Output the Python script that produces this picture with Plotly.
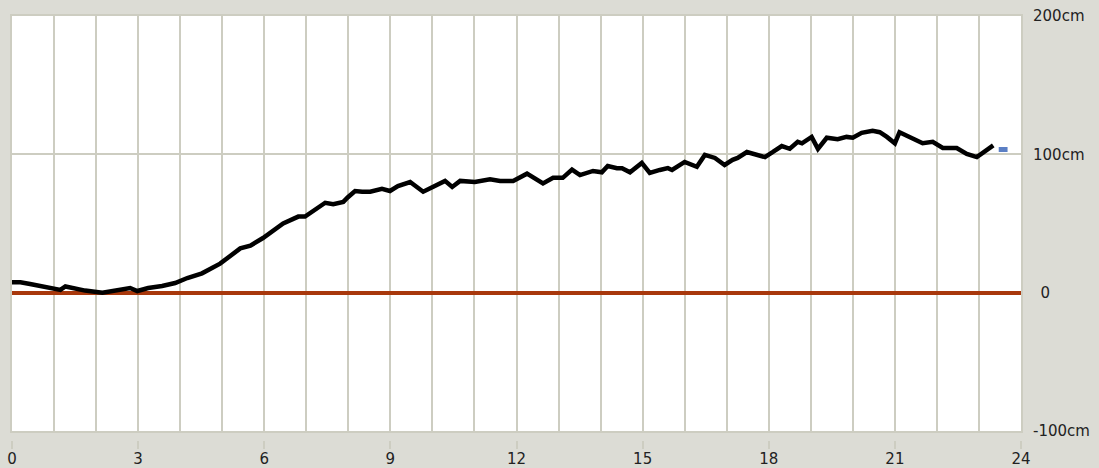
import plotly.graph_objects as go

# Tide level readings (hours, cm)
hours = [0.00, 0.20, 0.43, 0.72, 0.98, 1.15, 1.27, 1.50, 1.74, 2.15, 2.38, 2.62, 2.81, 2.98,
         3.24, 3.57, 3.88, 4.17, 4.52, 4.95, 5.43, 5.67, 5.97, 6.45, 6.62, 6.81, 6.97, 7.26,
         7.45, 7.64, 7.88, 7.99, 8.16, 8.33, 8.52, 8.80, 8.99, 9.18, 9.47, 9.78, 9.99, 10.30,
         10.47, 10.66, 11.01, 11.37, 11.61, 11.92, 12.25, 12.63, 12.87, 13.10, 13.32, 13.51,
         13.82, 14.03, 14.17, 14.39, 14.51, 14.70, 14.98, 15.17, 15.41, 15.60, 15.70, 16.00,
         16.29, 16.48, 16.72, 16.95, 17.14, 17.26, 17.48, 17.67, 17.91, 18.10, 18.31, 18.50,
         18.69, 18.79, 19.02, 19.17, 19.38, 19.64, 19.85, 20.00, 20.21, 20.47, 20.64, 20.81,
         21.00, 21.11, 21.35, 21.66, 21.90, 22.14, 22.47, 22.71, 22.95, 23.14, 23.34]
level_cm = [7.5, 7.5, 6.3, 4.8, 3.4, 2.0, 4.5, 2.7, 1.5, 0.0, 1.2, 2.7, 3.4, 1.2,
            3.4, 4.8, 7.0, 10.6, 14.0, 21.0, 32.0, 34.0, 39.5, 50.0, 52.0, 55.0, 55.0, 61.0,
            65.0, 64.0, 65.6, 69.0, 73.5, 73.0, 73.0, 75.0, 73.5, 77.0, 80.0, 73.0, 76.4, 80.8,
            76.4, 80.8, 80.0, 82.0, 80.8, 80.8, 86.0, 79.0, 83.0, 83.0, 89.0, 85.0,
            88.0, 87.0, 91.6, 90.0, 90.0, 87.0, 93.8, 86.5, 88.7, 90.0, 88.7, 94.5,
            91.0, 99.6, 97.4, 92.3, 96.0, 97.4, 101.7, 100.3, 98.0, 101.7, 106.0, 104.0,
            109.0, 108.0, 112.6, 104.0, 112.0, 111.0, 112.6, 112.0, 115.5, 117.0, 116.0, 112.6,
            108.0, 116.0, 112.6, 108.0, 109.0, 104.6, 104.6, 100.3, 98.0, 101.7, 106.5]

# Forecast marker (short blue dash)
fc_hours = [23.47, 23.68]
fc_cm = [103.5, 103.5]

x_ticks = [0, 3, 6, 9, 12, 15, 18, 21, 24]
x_tick_labels = [str(v) for v in x_ticks]
y_ticks = [-100, 0, 100, 200]
y_tick_labels = ["-100cm", "\u20020", "100cm", "200cm"]

GRID = "#cdcdc1"
BG = "#dcdcd5"
FONT = dict(family="DejaVu Sans", size=15, color="#222222")

fig = go.Figure()
fig.add_trace(go.Scatter(x=hours, y=level_cm, mode="lines",
                         line=dict(color="black", width=4.5), showlegend=False,
                         hoverinfo="skip"))
fig.add_trace(go.Scatter(x=fc_hours, y=fc_cm, mode="lines",
                         line=dict(color="#5b7fc4", width=5), showlegend=False,
                         hoverinfo="skip"))
# invisible trace on the tick axis
fig.add_trace(go.Scatter(x=[x_ticks[0]], y=[y_ticks[0]], xaxis="x2", mode="markers",
                         marker=dict(opacity=0), showlegend=False, hoverinfo="skip"))

fig.update_layout(
    width=1099, height=468,
    margin=dict(l=12, r=78, t=16, b=28),
    paper_bgcolor=BG, plot_bgcolor="white",
    font=FONT,
    xaxis=dict(range=[0, 24], dtick=1, tick0=0, showgrid=True, gridcolor=GRID, gridwidth=2,
               showticklabels=False, ticks="", zeroline=False, automargin=False,
               showline=True, linecolor=GRID, linewidth=2, mirror=True),
    xaxis2=dict(range=[0, 24], overlaying="x", anchor="free", position=0,
                tickvals=x_ticks, ticktext=x_tick_labels, ticks="outside", ticklen=8,
                tickcolor=GRID, tickwidth=2, showgrid=False, zeroline=False, showline=False,
                tickfont=FONT, automargin=False, ticklabelstandoff=-3),
    yaxis=dict(range=[-100, 200], domain=[0.0212, 1], side="right",
               tickvals=y_ticks, ticktext=y_tick_labels, showgrid=True, gridcolor=GRID,
               gridwidth=2, ticks="", ticklabelstandoff=7, automargin=False,
               zeroline=True, zerolinecolor="#a8380c", zerolinewidth=4,
               showline=True, linecolor=GRID, linewidth=2, mirror=True, tickfont=FONT),
)

fig.write_html(
    "out.html",
    config={"displayModeBar": False},
    post_script="document.body.style.margin='0';document.body.style.overflow='hidden';",
)
